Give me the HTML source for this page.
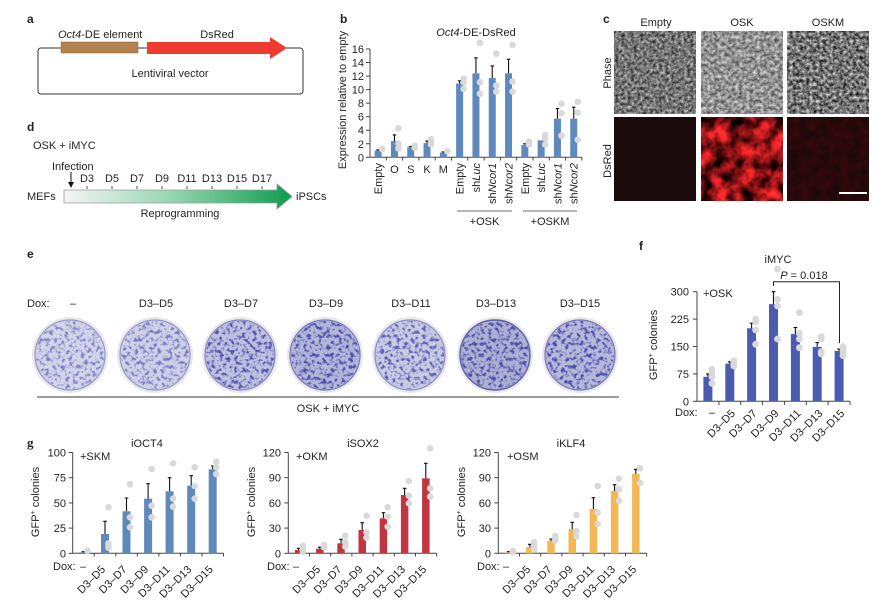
<!DOCTYPE html>
<html><head><meta charset="utf-8"><style>
html,body{margin:0;padding:0;background:#fff;}
svg{display:block;}
</style></head><body>
<svg xmlns="http://www.w3.org/2000/svg" width="896" height="602" viewBox="0 0 896 602">
<defs>
<linearGradient id="grd" x1="64" y1="0" x2="292" y2="0" gradientUnits="userSpaceOnUse">
<stop offset="0" stop-color="#f4f4f4"/><stop offset="0.45" stop-color="#9ad8b4"/><stop offset="1" stop-color="#0e9c4e"/>
</linearGradient>
<filter id="fPh1" x="0" y="0" width="100%" height="100%" color-interpolation-filters="sRGB">
<feTurbulence type="fractalNoise" baseFrequency="0.32" numOctaves="3" seed="4"/>
<feColorMatrix type="matrix" values="0.95 0 0 0 -0.02  0.95 0 0 0 -0.02  0.95 0 0 0 -0.02  0 0 0 0 1"/>
</filter>
<filter id="fPh2" x="0" y="0" width="100%" height="100%" color-interpolation-filters="sRGB">
<feTurbulence type="fractalNoise" baseFrequency="0.28" numOctaves="3" seed="11"/>
<feColorMatrix type="matrix" values="0.85 0 0 0 0.15  0.85 0 0 0 0.15  0.85 0 0 0 0.15  0 0 0 0 1"/>
</filter>
<filter id="fPh3" x="0" y="0" width="100%" height="100%" color-interpolation-filters="sRGB">
<feTurbulence type="fractalNoise" baseFrequency="0.3" numOctaves="3" seed="23"/>
<feColorMatrix type="matrix" values="1.15 0 0 0 -0.12  1.15 0 0 0 -0.12  1.15 0 0 0 -0.12  0 0 0 0 1"/>
</filter>
<filter id="fDs2" x="0" y="0" width="100%" height="100%" color-interpolation-filters="sRGB">
<feTurbulence type="fractalNoise" baseFrequency="0.07" numOctaves="3" seed="9"/>
<feColorMatrix type="matrix" values="2.0 0 0 0 -0.45  0.35 0 0 0 -0.1  0.35 0 0 0 -0.09  0 0 0 0 1"/>
</filter>
<filter id="fDs3" x="0" y="0" width="100%" height="100%" color-interpolation-filters="sRGB">
<feTurbulence type="fractalNoise" baseFrequency="0.1" numOctaves="2" seed="5"/>
<feColorMatrix type="matrix" values="0.2 0 0 0 0.06  0 0 0 0 0.035  0 0 0 0 0.045  0 0 0 0 1"/>
</filter>
<filter id="spk" x="0" y="0" width="100%" height="100%" color-interpolation-filters="sRGB">
<feTurbulence type="fractalNoise" baseFrequency="0.26" numOctaves="2" seed="7" result="n"/>
<feColorMatrix in="n" type="matrix" values="0 0 0 0 0.29  0 0 0 0 0.31  0 0 0 0 0.66  -4.5 0 0 0 2.35" result="c"/>
<feComposite in="c" in2="SourceGraphic" operator="in"/>
</filter>
</defs>

<g font-family="'Liberation Sans', Arial, sans-serif" font-size="11" fill="#231f20">

<!-- ===== Panel a ===== -->
<text x="27" y="23" font-weight="bold" font-size="12">a</text>
<rect x="38" y="48" width="265" height="46" rx="3" fill="none" stroke="#333" stroke-width="1"/>
<rect x="61" y="42" width="77" height="11" fill="#b3824f" stroke="#8a6238" stroke-width="0.5"/>
<polygon points="147,42 270,42 270,37 287,48 270,59 270,54 147,54" fill="#f03b31"/>
<text x="58" y="38"><tspan font-style="italic">Oct4</tspan>-DE element</text>
<text x="217" y="38" text-anchor="middle">DsRed</text>
<text x="170" y="77" text-anchor="middle">Lentiviral vector</text>

<!-- ===== Panel d ===== -->
<text x="27" y="131" font-weight="bold" font-size="12">d</text>
<text x="33" y="149">OSK + iMYC</text>
<text x="52" y="170">Infection</text>
<line x1="71" y1="172" x2="71" y2="183" stroke="#111" stroke-width="1"/>
<polygon points="68,182 74,182 71,188" fill="#111"/>
<g text-anchor="middle">
<text x="87" y="182">D3</text><text x="112" y="182">D5</text><text x="137" y="182">D7</text><text x="162" y="182">D9</text>
<text x="187" y="182">D11</text><text x="212" y="182">D13</text><text x="237" y="182">D15</text><text x="262" y="182">D17</text>
</g>
<g stroke="#555" stroke-width="1">
<line x1="87" y1="186" x2="87" y2="189"/><line x1="112" y1="186" x2="112" y2="189"/><line x1="137" y1="186" x2="137" y2="189"/><line x1="162" y1="186" x2="162" y2="189"/>
<line x1="187" y1="186" x2="187" y2="189"/><line x1="212" y1="186" x2="212" y2="189"/><line x1="237" y1="186" x2="237" y2="189"/><line x1="262" y1="186" x2="262" y2="189"/>
</g>
<polygon points="64,190 277,190 277,184 292,196.5 277,209 277,203 64,203" fill="url(#grd)" stroke="#9a9a9a" stroke-width="0.8"/>
<text x="27" y="200">MEFs</text>
<text x="296" y="200">iPSCs</text>
<text x="180" y="217" text-anchor="middle">Reprogramming</text>

<!-- ===== Panel b ===== -->
<text x="340" y="23" font-weight="bold" font-size="12">b</text>
<text x="476" y="36" text-anchor="middle"><tspan font-style="italic">Oct4</tspan>-DE-DsRed</text>
<text transform="translate(346,100) rotate(-90)" text-anchor="middle">Expression relative to empty</text>
<g stroke="#444" stroke-width="1" fill="none">
<line x1="370" y1="49" x2="370" y2="157.3"/>
<line x1="370" y1="157.3" x2="582" y2="157.3"/>
<line x1="366" y1="157.3" x2="370" y2="157.3"/><line x1="366" y1="143.76" x2="370" y2="143.76"/><line x1="366" y1="130.22" x2="370" y2="130.22"/>
<line x1="366" y1="116.68" x2="370" y2="116.68"/><line x1="366" y1="103.14" x2="370" y2="103.14"/><line x1="366" y1="89.6" x2="370" y2="89.6"/>
<line x1="366" y1="76.06" x2="370" y2="76.06"/><line x1="366" y1="62.52" x2="370" y2="62.52"/><line x1="366" y1="48.98" x2="370" y2="48.98"/>
<line x1="386.3" y1="157.3" x2="386.3" y2="160.5"/><line x1="402.6" y1="157.3" x2="402.6" y2="160.5"/><line x1="418.9" y1="157.3" x2="418.9" y2="160.5"/>
<line x1="435.2" y1="157.3" x2="435.2" y2="160.5"/><line x1="451.5" y1="157.3" x2="451.5" y2="160.5"/><line x1="467.8" y1="157.3" x2="467.8" y2="160.5"/>
<line x1="484.1" y1="157.3" x2="484.1" y2="160.5"/><line x1="500.4" y1="157.3" x2="500.4" y2="160.5"/><line x1="516.7" y1="157.3" x2="516.7" y2="160.5"/>
<line x1="533" y1="157.3" x2="533" y2="160.5"/><line x1="549.3" y1="157.3" x2="549.3" y2="160.5"/><line x1="565.6" y1="157.3" x2="565.6" y2="160.5"/>
<line x1="581.9" y1="157.3" x2="581.9" y2="160.5"/>
</g>
<g text-anchor="end">
<text x="364" y="161.3">0</text><text x="364" y="147.8">2</text><text x="364" y="134.2">4</text><text x="364" y="120.7">6</text>
<text x="364" y="107.1">8</text><text x="364" y="93.6">10</text><text x="364" y="80.1">12</text><text x="364" y="66.5">14</text><text x="364" y="53">16</text>
</g>
<g fill="#5f88bb">
<rect x="374.65" y="150.53" width="7" height="6.77"/>
<rect x="390.95" y="141.05" width="7" height="16.25"/>
<rect x="407.25" y="147.15" width="7" height="10.15"/>
<rect x="423.55" y="143.08" width="7" height="14.22"/>
<rect x="439.85" y="152.56" width="7" height="4.74"/>
<rect x="456.15" y="83.51" width="7" height="73.79"/>
<rect x="472.45" y="73.35" width="7" height="83.95"/>
<rect x="488.75" y="78.09" width="7" height="79.21"/>
<rect x="505.05" y="73.35" width="7" height="83.95"/>
<rect x="521.35" y="145.11" width="7" height="12.19"/>
<rect x="537.65" y="140.38" width="7" height="16.92"/>
<rect x="553.95" y="118.71" width="7" height="38.59"/>
<rect x="570.25" y="118.71" width="7" height="38.59"/>
</g>
<g stroke="#111" stroke-width="1.1" fill="none">
<path d="M378.15 150.5V149.85M376.4 149.85H379.9"/>
<path d="M394.45 141V134.96M392.7 134.96H396.2"/>
<path d="M410.75 147.1V146.47M409 146.47H412.5"/>
<path d="M427.05 143V141.05M425.3 141.05H428.8"/>
<path d="M443.35 152.5V151.88M441.6 151.88H445.1"/>
<path d="M459.65 83.5V80.8M457.9 80.8H461.4"/>
<path d="M475.95 73.3V57.78M474.2 57.78H477.7"/>
<path d="M492.25 78V65.9M490.5 65.9H494"/>
<path d="M508.55 73.3V59.14M506.8 59.14H510.3"/>
<path d="M524.85 145.1V143.76M523.1 143.76H526.6"/>
<path d="M557.45 118.7V108.56M555.7 108.56H559.2"/>
<path d="M573.75 118.7V107.2M572 107.2H575.5"/>
</g>
<g fill="#d9d9d9">
<circle cx="382.15" cy="149.18" r="3.3"/>
<circle cx="398.45" cy="128.19" r="3.3"/><circle cx="398.45" cy="143.76" r="3.3"/><circle cx="398.45" cy="148.5" r="3.3"/>
<circle cx="414.75" cy="145.79" r="3.3"/><circle cx="414.75" cy="147.82" r="3.3"/>
<circle cx="431.05" cy="139.02" r="3.3"/><circle cx="431.05" cy="142.41" r="3.3"/><circle cx="431.05" cy="144.44" r="3.3"/>
<circle cx="447.35" cy="151.2" r="3.3"/>
<circle cx="463.65" cy="78.77" r="3.3"/><circle cx="463.65" cy="82.15" r="3.3"/><circle cx="463.65" cy="88.92" r="3.3"/>
<circle cx="479.95" cy="42.89" r="3.3"/><circle cx="479.95" cy="82.15" r="3.3"/><circle cx="479.95" cy="93.66" r="3.3"/>
<circle cx="496.25" cy="53.72" r="3.3"/><circle cx="496.25" cy="85.54" r="3.3"/><circle cx="496.25" cy="91.63" r="3.3"/>
<circle cx="512.55" cy="44.92" r="3.3"/><circle cx="512.55" cy="81.48" r="3.3"/><circle cx="512.55" cy="91.63" r="3.3"/>
<circle cx="528.85" cy="141.73" r="3.3"/><circle cx="528.85" cy="144.44" r="3.3"/>
<circle cx="545.15" cy="134.96" r="3.3"/><circle cx="545.15" cy="138.34" r="3.3"/><circle cx="545.15" cy="144.44" r="3.3"/>
<circle cx="561.45" cy="103.82" r="3.3"/><circle cx="561.45" cy="113.3" r="3.3"/><circle cx="561.45" cy="135.64" r="3.3"/>
<circle cx="577.75" cy="101.79" r="3.3"/><circle cx="577.75" cy="112.62" r="3.3"/><circle cx="577.75" cy="139.7" r="3.3"/>
</g>
<g text-anchor="end">
<text transform="translate(382.2,163) rotate(-90)">Empty</text>
<text transform="translate(463.6,163) rotate(-90)">Empty</text>
<text transform="translate(480,163) rotate(-90)">sh<tspan font-style="italic">Luc</tspan></text>
<text transform="translate(496.2,163) rotate(-90)">sh<tspan font-style="italic">Ncor1</tspan></text>
<text transform="translate(512.5,163) rotate(-90)">sh<tspan font-style="italic">Ncor2</tspan></text>
<text transform="translate(528.8,163) rotate(-90)">Empty</text>
<text transform="translate(545.1,163) rotate(-90)">sh<tspan font-style="italic">Luc</tspan></text>
<text transform="translate(561.4,163) rotate(-90)">sh<tspan font-style="italic">Ncor1</tspan></text>
<text transform="translate(577.7,163) rotate(-90)">sh<tspan font-style="italic">Ncor2</tspan></text>
</g>
<g text-anchor="middle">
<text x="394.45" y="173">O</text><text x="410.75" y="173">S</text><text x="427.05" y="173">K</text><text x="443.35" y="173">M</text>
</g>
<line x1="457" y1="211" x2="512" y2="211" stroke="#8c8c8c" stroke-width="1.2"/>
<line x1="523" y1="211" x2="577" y2="211" stroke="#8c8c8c" stroke-width="1.2"/>
<text x="484.5" y="225" text-anchor="middle">+OSK</text>
<text x="550" y="225" text-anchor="middle">+OSKM</text>

<!-- ===== Panel c ===== -->
<text x="603" y="23" font-weight="bold" font-size="12">c</text>
<text x="656" y="26" text-anchor="middle">Empty</text>
<text x="742" y="26" text-anchor="middle">OSK</text>
<text x="828" y="26" text-anchor="middle">OSKM</text>
<text transform="translate(611,73) rotate(-90)" text-anchor="middle">Phase</text>
<text transform="translate(611,161) rotate(-90)" text-anchor="middle">DsRed</text>
<rect x="614" y="31" width="82" height="83" fill="#747474" filter="url(#fPh1)"/>
<rect x="701" y="31" width="82" height="83" fill="#8d8d8d" filter="url(#fPh2)"/>
<rect x="787" y="31" width="82" height="83" fill="#6e6e6e" filter="url(#fPh3)"/>
<rect x="614" y="117" width="82" height="84" fill="#1c0b0d"/>
<rect x="701" y="117" width="82" height="84" fill="#a51818" filter="url(#fDs2)"/>
<rect x="787" y="117" width="82" height="84" fill="#260a0c" filter="url(#fDs3)"/>
<line x1="839" y1="193" x2="867" y2="193" stroke="#fff" stroke-width="2"/>

<!-- ===== Panel e ===== -->
<text x="27" y="258" font-weight="bold" font-size="12">e</text>
<text x="27" y="307">Dox:</text>
<g text-anchor="middle">
<text x="73" y="307">–</text><text x="156" y="307">D3–D5</text><text x="241" y="307">D3–D7</text><text x="326" y="307">D3–D9</text>
<text x="411" y="307">D3–D11</text><text x="496" y="307">D3–D13</text><text x="580" y="307">D3–D15</text>
</g>
<g>
<circle cx="70" cy="355" r="38" fill="#e8e8ec"/><circle cx="70" cy="355" r="35" fill="#d3d5ea" stroke="#9498c8" stroke-width="1.2"/>
<circle cx="70" cy="355" r="34" fill="#000" filter="url(#spk)" opacity="0.6"/>
<circle cx="155" cy="355" r="38" fill="#e8e8ec"/><circle cx="155" cy="355" r="35" fill="#cfd1e8" stroke="#9498c8" stroke-width="1.2"/>
<circle cx="155" cy="355" r="34" fill="#000" filter="url(#spk)" opacity="0.65"/>
<circle cx="240" cy="355" r="38" fill="#e8e8ec"/><circle cx="240" cy="355" r="35" fill="#bfc1e0" stroke="#8286c0" stroke-width="1.2"/>
<circle cx="240" cy="355" r="34" fill="#000" filter="url(#spk)" opacity="0.95"/>
<circle cx="325" cy="355" r="38" fill="#e8e8ec"/><circle cx="325" cy="355" r="35" fill="#b3b6da" stroke="#767ab8" stroke-width="1.2"/>
<circle cx="325" cy="355" r="34" fill="#000" filter="url(#spk)" opacity="1"/>
<circle cx="410" cy="355" r="38" fill="#e8e8ec"/><circle cx="410" cy="355" r="35" fill="#c9cbe5" stroke="#8a8ec4" stroke-width="1.2"/>
<circle cx="410" cy="355" r="34" fill="#000" filter="url(#spk)" opacity="0.85"/>
<circle cx="495" cy="355" r="38" fill="#e8e8ec"/><circle cx="495" cy="355" r="35" fill="#adb0d4" stroke="#5e62a0" stroke-width="1.4"/>
<circle cx="495" cy="355" r="34" fill="#000" filter="url(#spk)" opacity="1"/>
<circle cx="580" cy="355" r="38" fill="#e8e8ec"/><circle cx="580" cy="355" r="35" fill="#b6b9da" stroke="#7478b4" stroke-width="1.2"/>
<circle cx="580" cy="355" r="34" fill="#000" filter="url(#spk)" opacity="1"/>
</g>
<line x1="37" y1="397" x2="619" y2="397" stroke="#333" stroke-width="1"/>
<text x="328" y="412" text-anchor="middle">OSK + iMYC</text>

<!-- ===== Panel f ===== -->
<text x="639" y="250" font-weight="bold" font-size="12">f</text>
<text x="778" y="263" text-anchor="middle">iMYC</text>
<text x="703" y="297">+OSK</text>
<text transform="translate(657,345) rotate(-90)" text-anchor="middle">GFP<tspan dy="-4" font-size="7">+</tspan><tspan dy="4"> colonies</tspan></text>
<g stroke="#444" stroke-width="1" fill="none">
<line x1="697" y1="291.7" x2="697" y2="401.3"/>
<line x1="697" y1="401.3" x2="850" y2="401.3"/>
<line x1="693" y1="401.3" x2="697" y2="401.3"/><line x1="693" y1="373.9" x2="697" y2="373.9"/><line x1="693" y1="346.5" x2="697" y2="346.5"/>
<line x1="693" y1="319.1" x2="697" y2="319.1"/><line x1="693" y1="291.7" x2="697" y2="291.7"/>
<line x1="718.9" y1="401.3" x2="718.9" y2="405"/><line x1="740.7" y1="401.3" x2="740.7" y2="405"/><line x1="762.6" y1="401.3" x2="762.6" y2="405"/>
<line x1="784.4" y1="401.3" x2="784.4" y2="405"/><line x1="806.3" y1="401.3" x2="806.3" y2="405"/><line x1="828.1" y1="401.3" x2="828.1" y2="405"/>
<line x1="850" y1="401.3" x2="850" y2="405"/>
</g>
<g text-anchor="end">
<text x="689" y="405.3">0</text><text x="689" y="377.9">75</text><text x="689" y="350.5">150</text><text x="689" y="323.1">225</text><text x="689" y="295.7">300</text>
</g>
<g fill="#4b5cb0">
<rect x="703.4" y="376.83" width="9" height="24.47"/>
<rect x="725.3" y="363.67" width="9" height="37.63"/>
<rect x="747.1" y="328.24" width="9" height="73.06"/>
<rect x="769" y="304.13" width="9" height="97.17"/>
<rect x="790.9" y="334.08" width="9" height="67.22"/>
<rect x="812.7" y="346.87" width="9" height="54.43"/>
<rect x="834.6" y="350.89" width="9" height="50.41"/>
</g>
<g stroke="#111" stroke-width="1.1" fill="none">
<path d="M707.9 376.8V373.9M706 373.9H709.8"/>
<path d="M729.8 363.6V361.85M727.9 361.85H731.7"/>
<path d="M751.6 328.2V323.13M749.7 323.13H753.5"/>
<path d="M773.5 304.1V291.71M771.6 291.71H775.4"/>
<path d="M795.4 334V327.51M793.5 327.51H797.3"/>
<path d="M817.2 346.8V342.49M815.3 342.49H819.1"/>
<path d="M839.1 350.8V349.06M837.2 349.06H841"/>
</g>
<g fill="#d9d9d9">
<circle cx="711.9" cy="369.3" r="3.4"/><circle cx="711.9" cy="372.7" r="3.4"/><circle cx="711.9" cy="376.7" r="3.4"/><circle cx="711.9" cy="383.3" r="3.4"/>
<circle cx="733.8" cy="360.7" r="3.4"/><circle cx="733.8" cy="362.7" r="3.4"/><circle cx="733.8" cy="364.3" r="3.4"/><circle cx="733.8" cy="366" r="3.4"/>
<circle cx="755.6" cy="319" r="3.4"/><circle cx="755.6" cy="321.7" r="3.4"/><circle cx="755.6" cy="330" r="3.4"/><circle cx="755.6" cy="344.3" r="3.4"/>
<circle cx="777.5" cy="269" r="3.4"/><circle cx="777.5" cy="299.3" r="3.4"/><circle cx="777.5" cy="306" r="3.4"/><circle cx="777.5" cy="339" r="3.4"/>
<circle cx="799.4" cy="312.7" r="3.4"/><circle cx="799.4" cy="333.3" r="3.4"/><circle cx="799.4" cy="339" r="3.4"/><circle cx="799.4" cy="347.7" r="3.4"/>
<circle cx="821.2" cy="336.7" r="3.4"/><circle cx="821.2" cy="339" r="3.4"/><circle cx="821.2" cy="351.7" r="3.4"/><circle cx="821.2" cy="354" r="3.4"/>
<circle cx="843.1" cy="346.7" r="3.4"/><circle cx="843.1" cy="349.3" r="3.4"/><circle cx="843.1" cy="352.3" r="3.4"/><circle cx="843.1" cy="355.7" r="3.4"/>
</g>
<path d="M773.5 286V281.7H839.5V343" stroke="#222" stroke-width="1" fill="none"/>
<text x="804" y="279" text-anchor="middle"><tspan font-style="italic">P</tspan> = 0.018</text>
<text x="675" y="416">Dox:</text>
<text x="712" y="416" text-anchor="middle">–</text>
<g text-anchor="end">
<text transform="translate(735.8,414) rotate(-45)">D3–D5</text>
<text transform="translate(757.6,414) rotate(-45)">D3–D7</text>
<text transform="translate(779.5,414) rotate(-45)">D3–D9</text>
<text transform="translate(801.4,414) rotate(-45)">D3–D11</text>
<text transform="translate(823.2,414) rotate(-45)">D3–D13</text>
<text transform="translate(845.1,414) rotate(-45)">D3–D15</text>
</g>

<!-- ===== Panel g ===== -->
<text x="27" y="447" font-weight="bold" font-size="13" font-family="'Liberation Serif', serif">g</text>

<!-- chart 1 iOCT4 -->
<text x="147" y="447" text-anchor="middle">iOCT4</text>
<text x="80" y="460">+SKM</text>
<text transform="translate(39,502) rotate(-90)" text-anchor="middle">GFP<tspan dy="-4" font-size="7">+</tspan><tspan dy="4"> colonies</tspan></text>
<g stroke="#444" stroke-width="1" fill="none">
<line x1="72.7" y1="452.5" x2="72.7" y2="553.3"/>
<line x1="72.7" y1="553.3" x2="223.5" y2="553.3"/>
<line x1="68.7" y1="553.3" x2="72.7" y2="553.3"/><line x1="68.7" y1="528.1" x2="72.7" y2="528.1"/><line x1="68.7" y1="502.9" x2="72.7" y2="502.9"/>
<line x1="68.7" y1="477.7" x2="72.7" y2="477.7"/><line x1="68.7" y1="452.5" x2="72.7" y2="452.5"/>
<line x1="94.2" y1="553.3" x2="94.2" y2="556.5"/><line x1="115.8" y1="553.3" x2="115.8" y2="556.5"/><line x1="137.3" y1="553.3" x2="137.3" y2="556.5"/>
<line x1="158.9" y1="553.3" x2="158.9" y2="556.5"/><line x1="180.4" y1="553.3" x2="180.4" y2="556.5"/><line x1="202" y1="553.3" x2="202" y2="556.5"/>
<line x1="223.5" y1="553.3" x2="223.5" y2="556.5"/>
</g>
<g text-anchor="end">
<text x="66" y="557.3">0</text><text x="66" y="532.1">25</text><text x="66" y="506.9">50</text><text x="66" y="481.7">75</text><text x="66" y="456.5">100</text>
</g>
<g fill="#5f88bb">
<rect x="79.5" y="552.3" width="8" height="1"/>
<rect x="101" y="534" width="8" height="19.3"/>
<rect x="122.5" y="511.3" width="8" height="42"/>
<rect x="144.1" y="498.7" width="8" height="54.6"/>
<rect x="165.6" y="491.3" width="8" height="62"/>
<rect x="187.2" y="485.7" width="8" height="67.6"/>
<rect x="208.7" y="469.3" width="8" height="84"/>
</g>
<g stroke="#111" stroke-width="1.1" fill="none">
<path d="M83.5 552.3V551.7M81.7 551.7H85.3"/>
<path d="M105 534V521.3M103.2 521.3H106.8"/>
<path d="M126.5 511.3V498M124.7 498H128.3"/>
<path d="M148.1 498.7V483.7M146.3 483.7H149.9"/>
<path d="M169.6 491.3V477.7M167.8 477.7H171.4"/>
<path d="M191.2 485.7V475.7M189.4 475.7H193"/>
<path d="M212.7 469.3V466M210.9 466H214.5"/>
</g>
<g fill="#d9d9d9">
<circle cx="87.5" cy="550.7" r="3.3"/>
<circle cx="108.5" cy="507.3" r="3.3"/><circle cx="108.5" cy="543.3" r="3.3"/><circle cx="108.5" cy="545.7" r="3.3"/><circle cx="108.5" cy="547.7" r="3.3"/>
<circle cx="130" cy="484.3" r="3.3"/><circle cx="130" cy="517.3" r="3.3"/><circle cx="130" cy="527.3" r="3.3"/>
<circle cx="151.6" cy="469" r="3.3"/><circle cx="151.6" cy="505.7" r="3.3"/><circle cx="151.6" cy="517.3" r="3.3"/>
<circle cx="173.1" cy="463.3" r="3.3"/><circle cx="173.1" cy="498.7" r="3.3"/><circle cx="173.1" cy="506.7" r="3.3"/>
<circle cx="194.7" cy="467.3" r="3.3"/><circle cx="194.7" cy="486" r="3.3"/><circle cx="194.7" cy="498.7" r="3.3"/>
<circle cx="216.2" cy="461.7" r="3.3"/><circle cx="216.2" cy="467.3" r="3.3"/><circle cx="216.2" cy="474" r="3.3"/>
</g>
<text x="53" y="570">Dox:</text>
<text x="83" y="570" text-anchor="middle">–</text>
<g text-anchor="end">
<text transform="translate(106,570) rotate(-45)">D3–D5</text>
<text transform="translate(127.5,570) rotate(-45)">D3–D7</text>
<text transform="translate(149.1,570) rotate(-45)">D3–D9</text>
<text transform="translate(170.6,570) rotate(-45)">D3–D11</text>
<text transform="translate(192.2,570) rotate(-45)">D3–D13</text>
<text transform="translate(213.7,570) rotate(-45)">D3–D15</text>
</g>

<!-- chart 2 iSOX2 -->
<text x="363" y="447" text-anchor="middle">iSOX2</text>
<text x="296" y="460">+OKM</text>
<text transform="translate(255,502) rotate(-90)" text-anchor="middle">GFP<tspan dy="-4" font-size="7">+</tspan><tspan dy="4"> colonies</tspan></text>
<g stroke="#444" stroke-width="1" fill="none">
<line x1="288.3" y1="452.5" x2="288.3" y2="553.3"/>
<line x1="288.3" y1="553.3" x2="436.7" y2="553.3"/>
<line x1="284.3" y1="553.3" x2="288.3" y2="553.3"/><line x1="284.3" y1="528.1" x2="288.3" y2="528.1"/><line x1="284.3" y1="502.9" x2="288.3" y2="502.9"/>
<line x1="284.3" y1="477.7" x2="288.3" y2="477.7"/><line x1="284.3" y1="452.5" x2="288.3" y2="452.5"/>
<line x1="309.5" y1="553.3" x2="309.5" y2="556.5"/><line x1="330.7" y1="553.3" x2="330.7" y2="556.5"/><line x1="351.9" y1="553.3" x2="351.9" y2="556.5"/>
<line x1="373.1" y1="553.3" x2="373.1" y2="556.5"/><line x1="394.3" y1="553.3" x2="394.3" y2="556.5"/><line x1="415.5" y1="553.3" x2="415.5" y2="556.5"/>
<line x1="436.7" y1="553.3" x2="436.7" y2="556.5"/>
</g>
<g text-anchor="end">
<text x="281" y="557.3">0</text><text x="281" y="532.1">30</text><text x="281" y="506.9">60</text><text x="281" y="481.7">90</text><text x="281" y="456.5">120</text>
</g>
<g fill="#c0353f">
<rect x="294.9" y="550" width="7.5" height="3.3"/>
<rect x="316.1" y="548.7" width="7.5" height="4.6"/>
<rect x="337.3" y="543.3" width="7.5" height="10"/>
<rect x="358.5" y="530" width="7.5" height="23.3"/>
<rect x="379.7" y="518.3" width="7.5" height="35"/>
<rect x="400.9" y="495" width="7.5" height="58.3"/>
<rect x="422.1" y="478.3" width="7.5" height="75"/>
</g>
<g stroke="#111" stroke-width="1.1" fill="none">
<path d="M298.6 550V548.3M296.8 548.3H300.4"/>
<path d="M319.8 548.7V547.2M318 547.2H321.6"/>
<path d="M341 543.3V539.3M339.2 539.3H342.8"/>
<path d="M362.2 530V522.7M360.4 522.7H364"/>
<path d="M383.4 518.3V512.7M381.6 512.7H385.2"/>
<path d="M404.6 495V488.3M402.8 488.3H406.4"/>
<path d="M425.8 478.3V463.3M424 463.3H427.6"/>
</g>
<g fill="#d9d9d9">
<circle cx="302.9" cy="545.7" r="3.3"/><circle cx="302.9" cy="548.3" r="3.3"/><circle cx="302.9" cy="551.7" r="3.3"/>
<circle cx="324.1" cy="545" r="3.3"/><circle cx="324.1" cy="547.3" r="3.3"/>
<circle cx="345.3" cy="535.7" r="3.3"/><circle cx="345.3" cy="542.3" r="3.3"/><circle cx="345.3" cy="546.7" r="3.3"/>
<circle cx="366.5" cy="515.7" r="3.3"/><circle cx="366.5" cy="532.3" r="3.3"/><circle cx="366.5" cy="537.7" r="3.3"/>
<circle cx="387.7" cy="507.3" r="3.3"/><circle cx="387.7" cy="516.7" r="3.3"/><circle cx="387.7" cy="526.7" r="3.3"/>
<circle cx="408.9" cy="481" r="3.3"/><circle cx="408.9" cy="495.7" r="3.3"/><circle cx="408.9" cy="503.3" r="3.3"/>
<circle cx="430.1" cy="448.3" r="3.3"/><circle cx="430.1" cy="488.3" r="3.3"/><circle cx="430.1" cy="496.7" r="3.3"/>
</g>
<text x="267" y="570">Dox:</text>
<text x="296" y="570" text-anchor="middle">–</text>
<g text-anchor="end">
<text transform="translate(321.1,570) rotate(-45)">D3–D5</text>
<text transform="translate(342.3,570) rotate(-45)">D3–D7</text>
<text transform="translate(363.5,570) rotate(-45)">D3–D9</text>
<text transform="translate(384.7,570) rotate(-45)">D3–D11</text>
<text transform="translate(405.9,570) rotate(-45)">D3–D13</text>
<text transform="translate(427.1,570) rotate(-45)">D3–D15</text>
</g>

<!-- chart 3 iKLF4 -->
<text x="571" y="447" text-anchor="middle">iKLF4</text>
<text x="507" y="460">+OSM</text>
<text transform="translate(465,502) rotate(-90)" text-anchor="middle">GFP<tspan dy="-4" font-size="7">+</tspan><tspan dy="4"> colonies</tspan></text>
<g stroke="#444" stroke-width="1" fill="none">
<line x1="498.3" y1="452.5" x2="498.3" y2="553.3"/>
<line x1="498.3" y1="553.3" x2="646.7" y2="553.3"/>
<line x1="494.3" y1="553.3" x2="498.3" y2="553.3"/><line x1="494.3" y1="528.1" x2="498.3" y2="528.1"/><line x1="494.3" y1="502.9" x2="498.3" y2="502.9"/>
<line x1="494.3" y1="477.7" x2="498.3" y2="477.7"/><line x1="494.3" y1="452.5" x2="498.3" y2="452.5"/>
<line x1="519.5" y1="553.3" x2="519.5" y2="556.5"/><line x1="540.7" y1="553.3" x2="540.7" y2="556.5"/><line x1="561.9" y1="553.3" x2="561.9" y2="556.5"/>
<line x1="583.1" y1="553.3" x2="583.1" y2="556.5"/><line x1="604.3" y1="553.3" x2="604.3" y2="556.5"/><line x1="625.5" y1="553.3" x2="625.5" y2="556.5"/>
<line x1="646.7" y1="553.3" x2="646.7" y2="556.5"/>
</g>
<g text-anchor="end">
<text x="491" y="557.3">0</text><text x="491" y="532.1">30</text><text x="491" y="506.9">60</text><text x="491" y="481.7">90</text><text x="491" y="456.5">120</text>
</g>
<g fill="#f3b756">
<rect x="504.9" y="552.3" width="7.5" height="1"/>
<rect x="526.1" y="547" width="7.5" height="6.3"/>
<rect x="547.3" y="541" width="7.5" height="12.3"/>
<rect x="568.5" y="529" width="7.5" height="24.3"/>
<rect x="589.7" y="509" width="7.5" height="44.3"/>
<rect x="610.9" y="491" width="7.5" height="62.3"/>
<rect x="632.1" y="474" width="7.5" height="79.3"/>
</g>
<g stroke="#111" stroke-width="1.1" fill="none">
<path d="M508.6 552.3V551.7M506.8 551.7H510.4"/>
<path d="M529.8 547V544.3M528 544.3H531.6"/>
<path d="M551 541V539M549.2 539H552.8"/>
<path d="M572.2 529V522.3M570.4 522.3H574"/>
<path d="M593.4 509V497.7M591.6 497.7H595.2"/>
<path d="M614.6 491V484.7M612.8 484.7H616.4"/>
<path d="M635.8 474V469.3M634 469.3H637.6"/>
</g>
<g fill="#d9d9d9">
<circle cx="512.9" cy="551" r="3.3"/><circle cx="512.9" cy="552.3" r="3.3"/>
<circle cx="534.1" cy="542.3" r="3.3"/><circle cx="534.1" cy="545.7" r="3.3"/><circle cx="534.1" cy="549.3" r="3.3"/>
<circle cx="555.3" cy="536" r="3.3"/><circle cx="555.3" cy="538.3" r="3.3"/><circle cx="555.3" cy="540.7" r="3.3"/>
<circle cx="576.5" cy="515" r="3.3"/><circle cx="576.5" cy="531" r="3.3"/><circle cx="576.5" cy="536.3" r="3.3"/>
<circle cx="597.7" cy="486" r="3.3"/><circle cx="597.7" cy="512.7" r="3.3"/><circle cx="597.7" cy="524" r="3.3"/>
<circle cx="618.9" cy="478.7" r="3.3"/><circle cx="618.9" cy="489.3" r="3.3"/><circle cx="618.9" cy="500.7" r="3.3"/>
<circle cx="640.1" cy="468.3" r="3.3"/><circle cx="640.1" cy="483" r="3.3"/>
</g>
<text x="477" y="570">Dox:</text>
<text x="506" y="570" text-anchor="middle">–</text>
<g text-anchor="end">
<text transform="translate(531.1,570) rotate(-45)">D3–D5</text>
<text transform="translate(552.3,570) rotate(-45)">D3–D7</text>
<text transform="translate(573.5,570) rotate(-45)">D3–D9</text>
<text transform="translate(594.7,570) rotate(-45)">D3–D11</text>
<text transform="translate(615.9,570) rotate(-45)">D3–D13</text>
<text transform="translate(637.1,570) rotate(-45)">D3–D15</text>
</g>

</g>
</svg>
</body></html>
